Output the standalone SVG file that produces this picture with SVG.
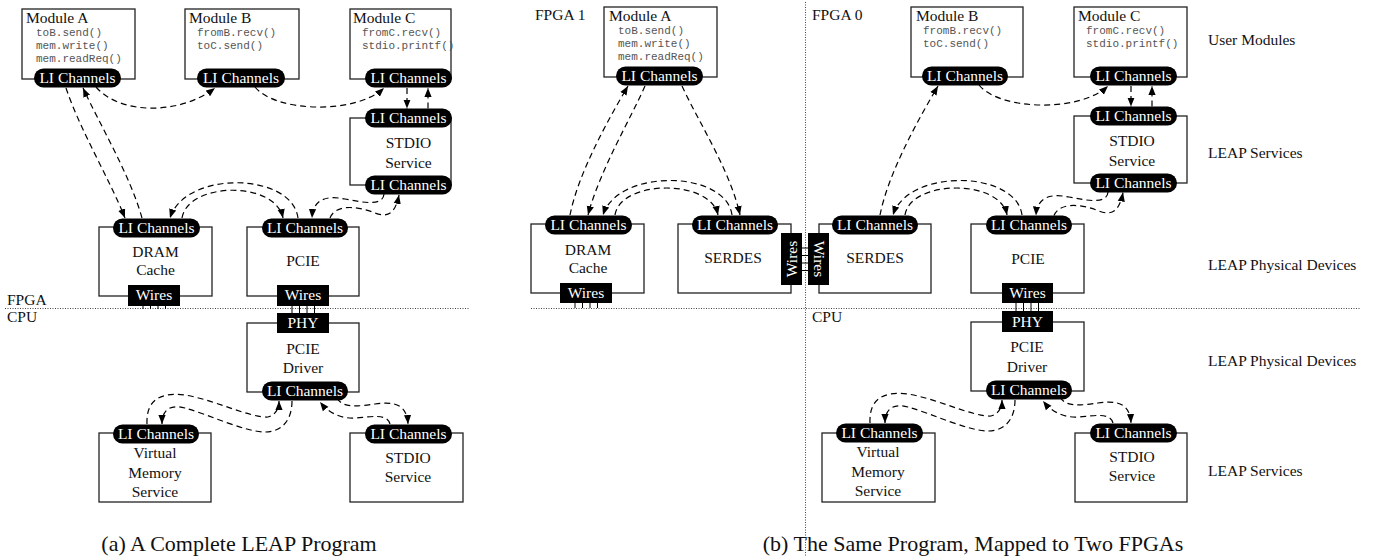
<svg xmlns="http://www.w3.org/2000/svg" width="1374" height="558" viewBox="0 0 1374 558">
<defs>
<style>
.box{fill:#fff;stroke:#222;stroke-width:1.3}
.pill{fill:#000}
.blk{fill:#000}
.pt{fill:#fff;font-family:"Liberation Serif","Times New Roman",serif;font-size:15.5px;text-anchor:middle}
.lbl{fill:#111;font-family:"Liberation Serif","Times New Roman",serif;font-size:15.5px;text-anchor:middle}
.ttl{fill:#111;font-family:"Liberation Serif","Times New Roman",serif;font-size:15.5px}
.code{fill:#555;font-family:"Liberation Mono","Courier New",monospace;font-size:11px}
.cap{fill:#111;font-family:"Liberation Serif","Times New Roman",serif;font-size:22px;text-anchor:middle}
.conn{fill:none;stroke:#000;stroke-width:1.2;stroke-dasharray:6 4;marker-end:url(#ah)}
.dot{fill:none;stroke:#444;stroke-width:1;stroke-dasharray:1 1.5}
.wire{stroke:#000;stroke-width:1}
</style>
<marker id="ah" viewBox="0 0 10 8" refX="10" refY="4" markerWidth="9" markerHeight="8" markerUnits="userSpaceOnUse" orient="auto"><path d="M0,0 L10,4 L0,8 z" fill="#000"/></marker>
</defs>
<rect width="1374" height="558" fill="#fff"/>

<!-- separators -->
<g id="separators">
<path class="dot" d="M5,308.5 H470"/>
<path class="dot" d="M531,308.5 H1360"/>
<path class="dot" d="M805.5,2 V556"/>
<text class="ttl" x="7" y="305">FPGA</text>
<text class="ttl" x="7" y="322">CPU</text>
<text class="ttl" x="535" y="20">FPGA 1</text>
<text class="ttl" x="812" y="20">FPGA 0</text>
<text class="ttl" x="812" y="322">CPU</text>
</g>

<!-- ===== (a) ===== -->
<g id="a-moduleA">
<rect class="box" x="22" y="9" width="113" height="70"/>
<text class="ttl" x="26" y="23">Module A</text>
<text class="code" x="36" y="35.5">toB.send()</text>
<text class="code" x="36" y="48.5">mem.write()</text>
<text class="code" x="36" y="61.5">mem.readReq()</text>
<rect class="pill" x="34" y="68.5" width="87" height="19" rx="9.5"/>
<text class="pt" x="77.5" y="83">LI Channels</text>
</g>
<g id="a-moduleB">
<rect class="box" x="185" y="9" width="114" height="70"/>
<text class="ttl" x="189" y="23">Module B</text>
<text class="code" x="197" y="35.5">fromB.recv()</text>
<text class="code" x="197" y="48.5">toC.send()</text>
<rect class="pill" x="197" y="68.5" width="88" height="19" rx="9.5"/>
<text class="pt" x="241" y="83">LI Channels</text>
</g>
<g id="a-moduleC">
<rect class="box" x="350" y="9" width="101" height="70"/>
<text class="ttl" x="353" y="23">Module C</text>
<text class="code" x="362" y="35.5">fromC.recv()</text>
<text class="code" x="362" y="48.5">stdio.printf()</text>
<rect class="pill" x="365" y="68.5" width="87" height="19" rx="9.5"/>
<text class="pt" x="408.5" y="83">LI Channels</text>
</g>
<g id="a-stdio-fpga">
<rect class="box" x="350" y="118" width="101" height="67"/>
<rect class="pill" x="365" y="108.5" width="87" height="19" rx="9.5"/>
<text class="pt" x="408.5" y="123">LI Channels</text>
<text class="lbl" x="408.5" y="148">STDIO</text>
<text class="lbl" x="408.5" y="168">Service</text>
<rect class="pill" x="365" y="175.5" width="87" height="19" rx="9.5"/>
<text class="pt" x="408.5" y="190">LI Channels</text>
</g>
<g id="a-dram">
<rect class="box" x="99" y="227" width="113" height="69"/>
<rect class="pill" x="113" y="218.5" width="87" height="19" rx="9.5"/>
<text class="pt" x="156.5" y="233">LI Channels</text>
<text class="lbl" x="155.5" y="257">DRAM</text>
<text class="lbl" x="155.5" y="275">Cache</text>
<rect class="blk" x="128" y="285" width="52" height="21"/>
<text class="pt" x="154" y="300">Wires</text>
<path class="wire" d="M143,306V309M150.5,306V309M158,306V309M165.5,306V309"/>
</g>
<g id="a-pcie">
<rect class="box" x="247" y="227" width="112" height="69"/>
<rect class="pill" x="262" y="218.5" width="86" height="19" rx="9.5"/>
<text class="pt" x="305" y="233">LI Channels</text>
<text class="lbl" x="303" y="266">PCIE</text>
<rect class="blk" x="277" y="285" width="52" height="21"/>
<text class="pt" x="303" y="300">Wires</text>
<path class="wire" d="M292,306V313M299.5,306V313M307,306V313M314.5,306V313"/>
</g>
<g id="a-pcie-driver">
<rect class="box" x="247" y="323" width="112" height="69"/>
<rect class="blk" x="277" y="313" width="52" height="20"/>
<text class="pt" x="303" y="328">PHY</text>
<text class="lbl" x="303" y="354">PCIE</text>
<text class="lbl" x="303" y="373">Driver</text>
<rect class="pill" x="262" y="381.5" width="86" height="19" rx="9.5"/>
<text class="pt" x="305" y="396">LI Channels</text>
</g>
<g id="a-virtual-memory">
<rect class="box" x="99" y="433" width="112" height="69"/>
<rect class="pill" x="113" y="424.5" width="86" height="19" rx="9.5"/>
<text class="pt" x="156" y="439">LI Channels</text>
<text class="lbl" x="155" y="458">Virtual</text>
<text class="lbl" x="155" y="478">Memory</text>
<text class="lbl" x="155" y="497">Service</text>
</g>
<g id="a-stdio-cpu">
<rect class="box" x="350" y="433" width="113" height="69"/>
<rect class="pill" x="365" y="424.5" width="87" height="19" rx="9.5"/>
<text class="pt" x="408.5" y="439">LI Channels</text>
<text class="lbl" x="408" y="463">STDIO</text>
<text class="lbl" x="408" y="482">Service</text>
</g>

<!-- ===== (b) ===== -->
<g id="b-moduleA">
<rect class="box" x="604" y="7" width="113" height="70"/>
<text class="ttl" x="609" y="21">Module A</text>
<text class="code" x="618" y="33.5">toB.send()</text>
<text class="code" x="618" y="46.5">mem.write()</text>
<text class="code" x="618" y="59.5">mem.readReq()</text>
<rect class="pill" x="616" y="66.5" width="87" height="19" rx="9.5"/>
<text class="pt" x="659.5" y="81">LI Channels</text>
</g>
<g id="b-moduleB">
<rect class="box" x="911" y="7" width="112" height="70"/>
<text class="ttl" x="916" y="21">Module B</text>
<text class="code" x="923" y="33.5">fromB.recv()</text>
<text class="code" x="923" y="46.5">toC.send()</text>
<rect class="pill" x="922" y="66.5" width="86" height="19" rx="9.5"/>
<text class="pt" x="965" y="81">LI Channels</text>
</g>
<g id="b-moduleC">
<rect class="box" x="1074" y="7" width="113" height="70"/>
<text class="ttl" x="1078" y="21">Module C</text>
<text class="code" x="1086" y="33.5">fromC.recv()</text>
<text class="code" x="1086" y="46.5">stdio.printf()</text>
<rect class="pill" x="1090" y="66.5" width="87" height="19" rx="9.5"/>
<text class="pt" x="1133.5" y="81">LI Channels</text>
</g>
<g id="b-stdio-fpga">
<rect class="box" x="1074" y="116" width="113" height="67"/>
<rect class="pill" x="1090" y="106.5" width="87" height="19" rx="9.5"/>
<text class="pt" x="1133.5" y="121">LI Channels</text>
<text class="lbl" x="1132" y="146">STDIO</text>
<text class="lbl" x="1132" y="166">Service</text>
<rect class="pill" x="1090" y="173.5" width="87" height="19" rx="9.5"/>
<text class="pt" x="1133.5" y="188">LI Channels</text>
</g>
<g id="b-dram">
<rect class="box" x="531" y="224" width="113" height="69"/>
<rect class="pill" x="545" y="215.5" width="87" height="19" rx="9.5"/>
<text class="pt" x="588.5" y="230">LI Channels</text>
<text class="lbl" x="588" y="255">DRAM</text>
<text class="lbl" x="588" y="273">Cache</text>
<rect class="blk" x="560" y="283" width="52" height="20"/>
<text class="pt" x="586" y="298">Wires</text>
<path class="wire" d="M575,303V308M582.5,303V308M590,303V308M597.5,303V308"/>
</g>
<g id="b-serdes-1">
<rect class="box" x="678" y="224" width="113" height="69"/>
<rect class="pill" x="692" y="215.5" width="86" height="19" rx="9.5"/>
<text class="pt" x="735" y="230">LI Channels</text>
<text class="lbl" x="733" y="263">SERDES</text>
<rect class="blk" x="781" y="233" width="21" height="52"/>
<text class="pt" transform="translate(796.5,259) rotate(-90)" x="0" y="0">Wires</text>
</g>
<g id="b-serdes-0">
<rect class="box" x="819" y="224" width="112" height="69"/>
<rect class="pill" x="832" y="215.5" width="86" height="19" rx="9.5"/>
<text class="pt" x="875" y="230">LI Channels</text>
<text class="lbl" x="875" y="263">SERDES</text>
<rect class="blk" x="808" y="233" width="21" height="52"/>
<text class="pt" transform="translate(813.5,259) rotate(90)" x="0" y="0">Wires</text>
<path class="wire" d="M802,248H808M802,255.5H808M802,263H808M802,270.5H808"/>
</g>
<g id="b-pcie">
<rect class="box" x="971" y="224" width="113" height="69"/>
<rect class="pill" x="986" y="215.5" width="86" height="19" rx="9.5"/>
<text class="pt" x="1029" y="230">LI Channels</text>
<text class="lbl" x="1028" y="264">PCIE</text>
<rect class="blk" x="1002" y="283" width="51" height="20"/>
<text class="pt" x="1027.5" y="298">Wires</text>
<path class="wire" d="M1016,303V311M1023.5,303V311M1031,303V311M1038.5,303V311"/>
</g>
<g id="b-pcie-driver">
<rect class="box" x="971" y="322" width="113" height="69"/>
<rect class="blk" x="1002" y="311" width="51" height="21"/>
<text class="pt" x="1027.5" y="327">PHY</text>
<text class="lbl" x="1027" y="352">PCIE</text>
<text class="lbl" x="1027" y="372">Driver</text>
<rect class="pill" x="986" y="380.5" width="86" height="19" rx="9.5"/>
<text class="pt" x="1029" y="395">LI Channels</text>
</g>
<g id="b-virtual-memory">
<rect class="box" x="822" y="433" width="113" height="69"/>
<rect class="pill" x="836" y="423.5" width="87" height="19" rx="9.5"/>
<text class="pt" x="879.5" y="438">LI Channels</text>
<text class="lbl" x="878" y="457">Virtual</text>
<text class="lbl" x="878" y="477">Memory</text>
<text class="lbl" x="878" y="496">Service</text>
</g>
<g id="b-stdio-cpu">
<rect class="box" x="1075" y="433" width="112" height="69"/>
<rect class="pill" x="1090" y="423.5" width="87" height="19" rx="9.5"/>
<text class="pt" x="1133.5" y="438">LI Channels</text>
<text class="lbl" x="1132" y="462">STDIO</text>
<text class="lbl" x="1132" y="481">Service</text>
</g>

<!-- layer labels -->
<g id="layer-labels">
<text class="ttl" x="1208" y="45">User Modules</text>
<text class="ttl" x="1208" y="158">LEAP Services</text>
<text class="ttl" x="1208" y="270">LEAP Physical Devices</text>
<text class="ttl" x="1208" y="366">LEAP Physical Devices</text>
<text class="ttl" x="1208" y="476">LEAP Services</text>
</g>

<!-- connectors -->
<g id="connectors">
<path class="conn" d="M66,88 C80,130 110,180 125,218"/>
<path class="conn" d="M142,218 C130,175 100,125 83,88"/>
<path class="conn" d="M96,87 C120,115 180,115 215,88"/>
<path class="conn" d="M255,87 C275,112 355,115 384,88"/>
<path class="conn" d="M407,88 V108.5"/>
<path class="conn" d="M428,108.5 V88"/>
<path class="conn" d="M298,218 C292,172 185,170 170,218"/>
<path class="conn" d="M182,218 C188,182 275,180 283,218"/>
<path class="conn" d="M384,194 C383,206 365,203 345,199 C325,195 313,200 312,218"/>
<path class="conn" d="M330,218 C335,205 355,205 375,213 C390,219 396,210 399,195"/>
<path class="conn" d="M147,424 C146,400 160,392 185,395 C215,400 250,418 268,417 C276,415 279,408 279,401"/>
<path class="conn" d="M292,401 C292,420 282,432 265,432 C245,432 210,415 185,408 C170,404 162,410 162,424"/>
<path class="conn" d="M337,398 C343,409 360,406 375,404 C395,401 407,405 408,424"/>
<path class="conn" d="M390,424 C387,413 370,417 355,418 C340,419 328,412 320,402"/>

<path class="conn" d="M570,215 C578,175 605,125 628,86"/>
<path class="conn" d="M645,86 C630,120 600,170 588,215"/>
<path class="conn" d="M682,86 C700,125 730,170 740,215"/>
<path class="conn" d="M732,215 C726,170 618,168 603,215"/>
<path class="conn" d="M615,215 C620,180 710,178 718,215"/>
<path class="conn" d="M880,215 C888,175 915,125 938,86"/>
<path class="conn" d="M1022,215 C1016,170 908,168 893,215"/>
<path class="conn" d="M905,215 C910,180 1000,178 1007,215"/>
<path class="conn" d="M979,85 C999,110 1079,113 1108,86"/>
<path class="conn" d="M1131,86 V106.5"/>
<path class="conn" d="M1152,106.5 V86"/>
<path class="conn" d="M1108,192 C1107,204 1089,201 1069,197 C1049,193 1037,198 1036,215.5"/>
<path class="conn" d="M1054,215.5 C1059,203 1079,203 1099,211 C1114,217 1120,208 1123,192.5"/>
<path class="conn" d="M870,423 C869,399 883,391 908,394 C938,399 973,417 991,416 C999,414 1002,407 1002,400"/>
<path class="conn" d="M1015,400 C1015,419 1005,431 988,431 C968,431 933,414 908,407 C893,403 885,409 885,423"/>
<path class="conn" d="M1060,397 C1066,408 1083,405 1098,403 C1118,400 1130,404 1131,423"/>
<path class="conn" d="M1113,423 C1110,412 1093,416 1078,417 C1063,418 1051,411 1043,401"/>
</g>

<!-- captions -->
<g id="captions">
<text class="cap" x="239" y="551">(a) A Complete LEAP Program</text>
<text class="cap" x="973" y="551">(b) The Same Program, Mapped to Two FPGAs</text>
</g>
</svg>
